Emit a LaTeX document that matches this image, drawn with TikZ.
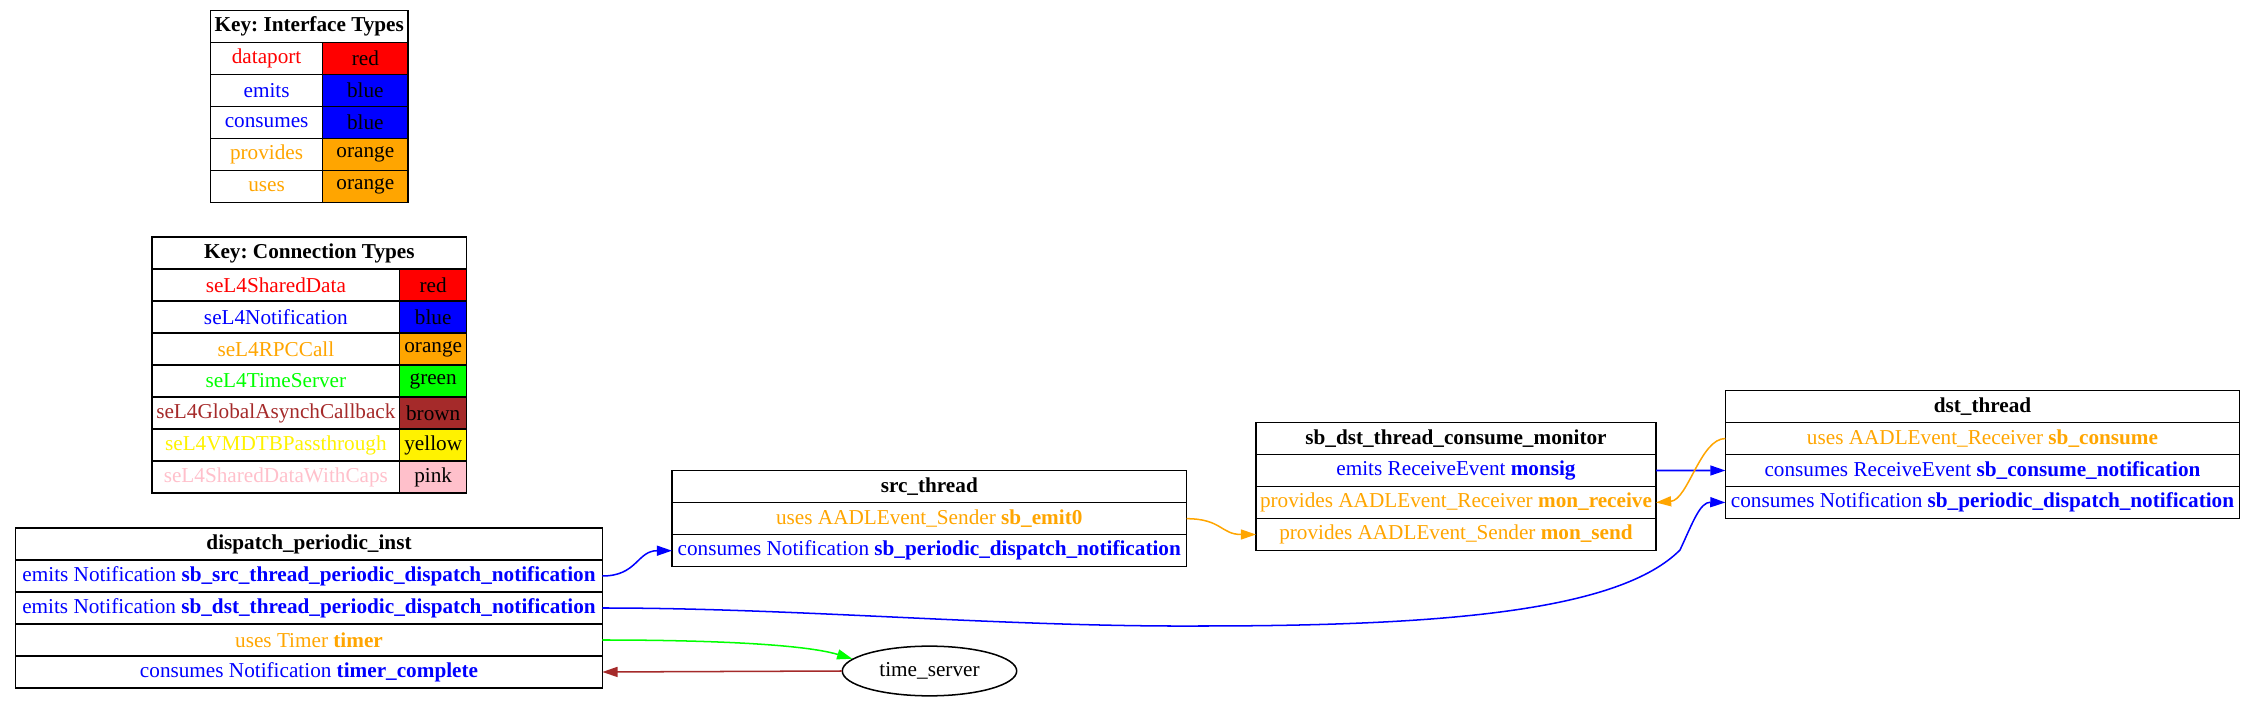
\documentclass[tikz,border=0pt]{standalone}
\usepackage{fontspec}
\setmainfont{Liberation Serif}
\frenchspacing
\usetikzlibrary{arrows.meta,shapes.geometric}
\definecolor{orange}{RGB}{255,165,0}
\definecolor{brown}{RGB}{165,42,42}
\definecolor{pink}{RGB}{255,192,203}
\begin{document}
\begin{tikzpicture}[x=0.66pt, y=-0.66pt, font=\fontsize{14}{16}\selectfont,
    cell/.style={draw, line width=1pt, anchor=north west, minimum height=21.12pt, inner sep=0pt, outer sep=0pt},
    link/.style={line width=1pt, -{Triangle[length=10pt,width=6.6pt]}}]
    \useasboundingbox (0,0) rectangle (2256,701);
    % Key: interface types
    \node[cell, minimum width=130.35pt] (ik-head) at (210.5,10.5) {\textbf{Key: Interface Types}};
    \foreach \name/\col [count=\i] in {dataport/red, emits/blue, consumes/blue, provides/orange, uses/orange} {
        \node[cell, minimum width=74.05pt, text=\col] (ik-\i) at (210.5,{10.5+32*\i}) {\name};
        \node[cell, minimum width=56.3pt, fill=\col] (ik-\i-c) at (ik-\i.north east) {\col};
    }
    % Key: connection types
    \node[cell, minimum width=207.7pt] (ck-head) at (152,237) {\textbf{Key: Connection Types}};
    \foreach \name/\col [count=\i] in {seL4SharedData/red, seL4Notification/blue, seL4RPCCall/orange,
        seL4TimeServer/green, seL4GlobalAsynchCallback/brown, seL4VMDTBPassthrough/yellow, seL4SharedDataWithCaps/pink} {
        \node[cell, minimum width=163.5pt, text=\col] (ck-\i) at (152,{237+32*\i}) {\name};
        \node[cell, minimum width=44.2pt, fill=\col] (ck-\i-c) at (ck-\i.north east) {\col};
    }
    % Component dispatch_periodic_inst
    \node[cell, minimum width=387.2pt] (dpi-head) at (15.7,528) {\textbf{dispatch\_periodic\_inst}};
    \node[cell, minimum width=387.2pt, text=blue] (dpi-1) at (dpi-head.south west) {emits Notification \textbf{sb\_src\_thread\_periodic\_dispatch\_notification}};
    \node[cell, minimum width=387.2pt, text=blue] (dpi-2) at (dpi-1.south west) {emits Notification \textbf{sb\_dst\_thread\_periodic\_dispatch\_notification}};
    \node[cell, minimum width=387.2pt, text=orange] (dpi-3) at (dpi-2.south west) {uses Timer \textbf{timer}};
    \node[cell, minimum width=387.2pt, text=blue] (dpi-4) at (dpi-3.south west) {consumes Notification \textbf{timer\_complete}};
    % Component src_thread
    \node[cell, minimum width=339.6pt] (src-head) at (672,470.7) {\textbf{src\_thread}};
    \node[cell, minimum width=339.6pt, text=orange] (src-1) at (src-head.south west) {uses AADLEvent\_Sender \textbf{sb\_emit0}};
    \node[cell, minimum width=339.6pt, text=blue] (src-2) at (src-1.south west) {consumes Notification \textbf{sb\_periodic\_dispatch\_notification}};
    % Component sb_dst_thread_consume_monitor
    \node[cell, minimum width=264pt] (mon-head) at (1256,422.5) {\textbf{sb\_dst\_thread\_consume\_monitor}};
    \node[cell, minimum width=264pt, text=blue] (mon-1) at (mon-head.south west) {emits ReceiveEvent \textbf{monsig}};
    \node[cell, minimum width=264pt, text=orange] (mon-2) at (mon-1.south west) {provides AADLEvent\_Receiver \textbf{mon\_receive}};
    \node[cell, minimum width=264pt, text=orange] (mon-3) at (mon-2.south west) {provides AADLEvent\_Sender \textbf{mon\_send}};
    % Component dst_thread
    \node[cell, minimum width=339.4pt] (dst-head) at (1725.4,390.5) {\textbf{dst\_thread}};
    \node[cell, minimum width=339.4pt, text=orange] (dst-1) at (dst-head.south west) {uses AADLEvent\_Receiver \textbf{sb\_consume}};
    \node[cell, minimum width=339.4pt, text=blue] (dst-2) at (dst-1.south west) {consumes ReceiveEvent \textbf{sb\_consume\_notification}};
    \node[cell, minimum width=339.4pt, text=blue] (dst-3) at (dst-2.south west) {consumes Notification \textbf{sb\_periodic\_dispatch\_notification}};
    % Time server
    \node[draw, ellipse, line width=1pt, inner sep=0pt, minimum width=115.1pt, minimum height=32.8pt] (ts) at (929.5,671) {time\_server};
    % Connections
    \draw[link, blue] (dpi-1.east) .. controls +(35,0) and +(-35,0) .. (src-2.west);
    \draw[link, orange] (src-1.east) .. controls +(35,0) and +(-35,0) .. (mon-3.west);
    \draw[link, blue] (mon-1.east) -- (dst-2.west);
    \draw[link, orange] (dst-1.west) .. controls +(-25,0) and +(32,-2.5) .. (mon-2.east);
    \draw[link, blue] (dpi-2.east) .. controls (800,608) and (1000,627) .. (1200,626)
        .. controls (1450,626) and (1620,610) .. (1680,550)
        .. controls (1693,522) and (1700,502) .. (dst-3.west);
    \draw[link, green] (dpi-3.east) .. controls +(100,0) and +(-50,-15) .. (ts.171);
    \draw[link, brown] (ts.west) -- (dpi-4.east);
\end{tikzpicture}
\end{document}
